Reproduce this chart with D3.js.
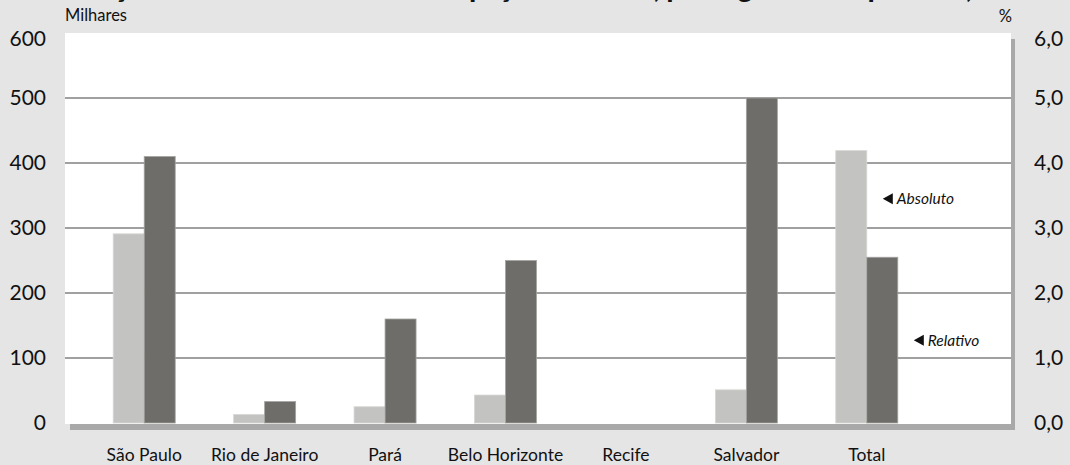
<!DOCTYPE html>
<html><head><meta charset="utf-8">
<script src="https://cdn.jsdelivr.net/npm/d3@7"></script>
<style>
html,body{margin:0;padding:0;background:#e5e5e5;}
svg{display:block;font-family:Lato,"Open Sans",sans-serif;}
</style></head>
<body>
<svg id="chart" width="1070" height="465"></svg>
<script>
const titleText = "Variação absoluta e relativa da ocupação em 2004, por região metropolitana, em milhares e em %";
const categories = ["São Paulo","Rio de Janeiro","Pará","Belo Horizonte","Recife","Salvador","Total"];
const absoluto = [291, 13, 25, 43, 0, 51, 419];      // milhares
const relativo = [4.1, 0.33, 1.6, 2.5, 0, 5.0, 2.55]; // %
const leftTicks = [0,100,200,300,400,500,600];
const rightTicks = [0,1,2,3,4,5,6];
const seriesNames = ["Absoluto","Relativo"];

const svg = d3.select("#chart");
const plot = {x0:65, x1:1011, y0:33, y1:423};

const yL = d3.scaleLinear().domain([0,600]).range([plot.y1, plot.y0]);
const yR = d3.scaleLinear().domain([0,6]).range([plot.y1, plot.y0]);
const x = d3.scaleBand().domain(categories).range([84,927]);
const xs = d3.scaleBand().domain(seriesNames).range([x.bandwidth()/2-31, x.bandwidth()/2+31]);

// title (mostly cut off at top)
svg.append("text").attr("x", 52).attr("y", -2)
  .attr("font-size", 27).attr("font-weight", 900).attr("fill", "#111")
  .text(titleText);

// shadow
svg.append("rect").attr("x", plot.x0+5).attr("y", plot.y1).attr("width", plot.x1-plot.x0-1).attr("height", 7).attr("fill", "#a9a9a9");
svg.append("rect").attr("x", plot.x1).attr("y", plot.y0+6).attr("width", 4).attr("height", plot.y1-plot.y0+1).attr("fill", "#a9a9a9");
// plot area
svg.append("rect").attr("x", plot.x0).attr("y", plot.y0).attr("width", plot.x1-plot.x0).attr("height", plot.y1-plot.y0+1).attr("fill", "#ffffff");

// gridlines
svg.append("g").selectAll("line").data(leftTicks.filter(d=>d>0 && d<600)).join("line")
  .attr("x1", plot.x0).attr("x2", plot.x1)
  .attr("y1", d=>yL(d)).attr("y2", d=>yL(d))
  .attr("stroke", "#808080").attr("stroke-width", 1.6);

// bars
const g = svg.append("g");
categories.forEach((c,i)=>{
  const gx = x(c);
  if (absoluto[i] > 0) g.append("rect")
    .attr("x", gx + xs("Absoluto")).attr("width", xs.bandwidth())
    .attr("y", yL(absoluto[i])).attr("height", yL(0)-yL(absoluto[i]))
    .attr("fill", "#c3c3c1").attr("stroke", "#d6d6d4").attr("stroke-width", 0.8);
  if (relativo[i] > 0) g.append("rect")
    .attr("x", gx + xs("Relativo")).attr("width", xs.bandwidth())
    .attr("y", yR(relativo[i])).attr("height", yR(0)-yR(relativo[i]))
    .attr("fill", "#6f6d6a").attr("stroke", "#a3a3a1").attr("stroke-width", 0.8);
});

// left axis labels
svg.append("g").selectAll("text").data(leftTicks).join("text")
  .attr("x", 46).attr("y", d=>Math.max(yL(d), 39)).attr("dy", "0.35em")
  .attr("text-anchor", "end").attr("font-size", 21).attr("fill", "#111")
  .text(d=>d);
// right axis labels
svg.append("g").selectAll("text").data(rightTicks).join("text")
  .attr("x", 1034).attr("y", d=>Math.max(yR(d), 39)).attr("dy", "0.35em")
  .attr("text-anchor", "start").attr("font-size", 21).attr("fill", "#111")
  .text(d=>d.toFixed(1).replace(".", ","));

// unit labels
svg.append("text").attr("x", 65).attr("y", 21).attr("font-size", 16.5).attr("fill", "#111").text("Milhares");
svg.append("text").attr("x", 1012).attr("y", 22).attr("text-anchor", "end").attr("font-size", 16.5).attr("fill", "#111").text("%");

// category labels
svg.append("g").selectAll("text").data(categories).join("text")
  .attr("x", d=>x(d)+x.bandwidth()/2).attr("y", 461)
  .attr("text-anchor", "middle").attr("font-size", 17.5).attr("fill", "#111")
  .text(d=>d);

// annotations
const tIdx = categories.indexOf("Total");
const annot = [
  {name:"Absoluto", x: x("Total")+xs("Absoluto")+xs.bandwidth()+16, y: yL(absoluto[tIdx]) + 48},
  {name:"Relativo", x: x("Total")+xs("Relativo")+xs.bandwidth()+16, y: yR(relativo[tIdx]) + 83}
];
annot.forEach(a=>{
  const ag = svg.append("g").attr("transform", `translate(${a.x},${a.y})`);
  ag.append("path").attr("d", "M0,0 L10,-5.5 L10,5.5 Z").attr("fill", "#111");
  ag.append("text").attr("x", 14).attr("y", 0).attr("dy", "0.35em")
    .attr("font-size", 15.5).attr("font-style", "italic").attr("fill", "#111").text(a.name);
});
</script>
</body></html>
